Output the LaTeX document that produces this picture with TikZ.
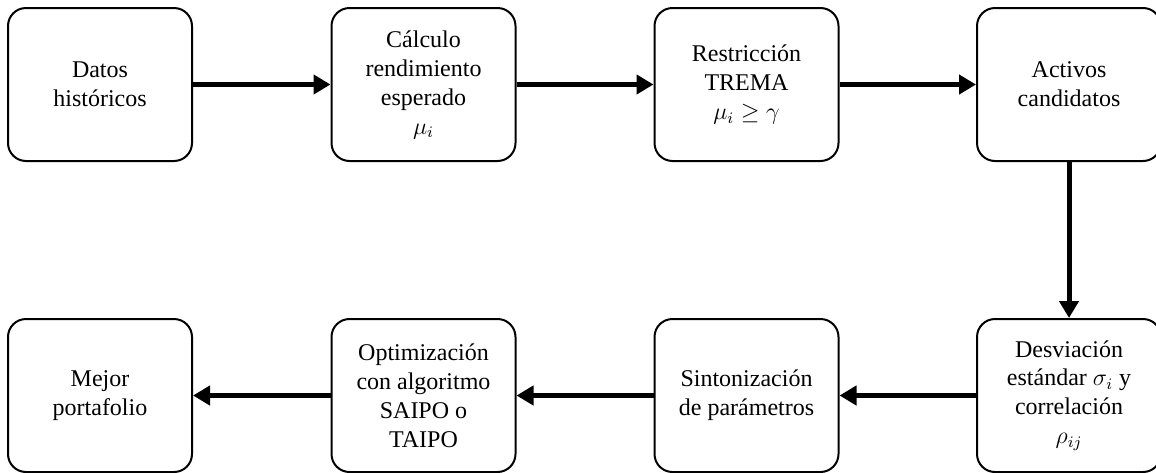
\documentclass[tikz,border=0pt]{standalone}
\usepackage{amsmath}
\usepackage{amssymb}
\usepackage{fontspec}
\setmainfont{Liberation Serif}
\usetikzlibrary{arrows.meta,positioning}

\begin{document}
\begin{tikzpicture}[x=0.5pt,y=-0.5pt,
  paso/.style={draw, line width=1pt, rounded corners=9pt, minimum width=92pt,
    minimum height=76.5pt, inner sep=0pt, align=center,
    font=\fontsize{12}{14.5}\selectfont},
  flecha/.style={line width=2.5pt, -{Triangle[length=8.5pt,width=9.5pt]}}]
\useasboundingbox (0,0) rectangle (1156,472);
\clip (0,0) rectangle (1156,472);
% fila superior
\node[paso] (D1) at (100,84.5) {Datos\\históricos};
\node[paso] (D2) at (423.5,84.5) {Cálculo\\rendimiento\\esperado\\$\mu_i$};
\node[paso] (D3) at (746.5,84.5) {Restricción\\TREMA\\$\mu_i \geq \gamma$};
\node[paso] (D4) at (1069,84.5) {Activos\\candidatos};
% fila inferior
\node[paso] (D5) at (1069,395.5) {Desviación\\estándar $\sigma_i$ y\\correlación\\$\rho_{ij}$};
\node[paso] (D6) at (746.5,395.5) {Sintonización\\de parámetros};
\node[paso] (D7) at (423.5,395.5) {Optimización\\con algoritmo\\SAIPO o\\TAIPO};
\node[paso] (D8) at (100,395.5) {Mejor\\portafolio};
% flechas
\draw[flecha] (D1) -- (D2);
\draw[flecha] (D2) -- (D3);
\draw[flecha] (D3) -- (D4);
\draw[flecha] (D4) -- (D5);
\draw[flecha] (D5) -- (D6);
\draw[flecha] (D6) -- (D7);
\draw[flecha] (D7) -- (D8);
\end{tikzpicture}
\end{document}
